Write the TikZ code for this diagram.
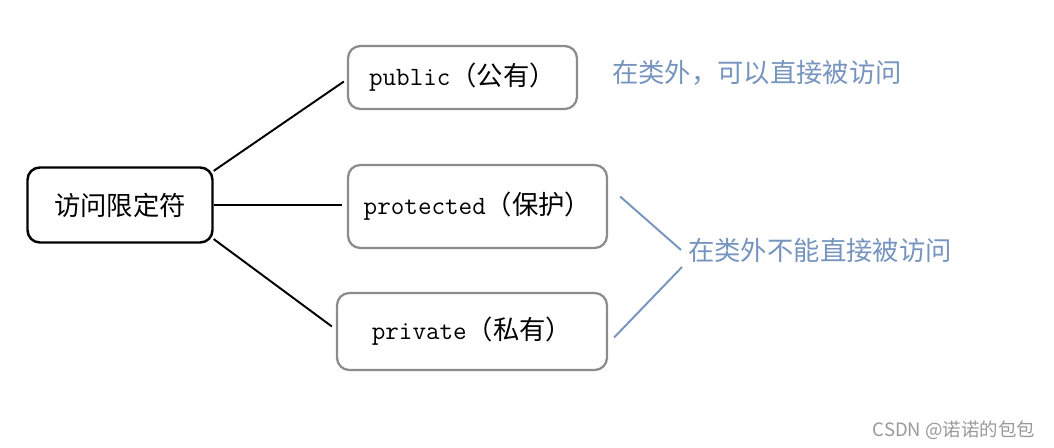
\documentclass[tikz,border=0pt]{standalone}
\usepackage{fontspec}
\newfontfamily\cjk{Noto Sans CJK SC}
\usetikzlibrary{positioning, calc}
\definecolor{noteblue}{RGB}{118,148,190}

\begin{document}
\begin{tikzpicture}[x=0.02cm, y=-0.02cm, thick,
    box/.style={draw=gray!90, line width=1.3pt, rounded corners=7pt, fill=white},
    txt/.style={font=\fontsize{15}{18}\selectfont}]
    \useasboundingbox (0,0) rectangle (1054,448);

    % root
    \node[draw, line width=1.4pt, rounded corners=7pt, minimum width=3.7cm, minimum height=1.5cm, txt] (acc) at (120,205) {\cjk 访问限定符};

    % access levels
    \node[box, minimum width=4.58cm, minimum height=1.26cm, txt] (pub) at (462.5,77.5) {\ttfamily public\cjk （公有）};
    \node[box, minimum width=5.18cm, minimum height=1.66cm, txt] (pro) at (477.5,206.5) {\ttfamily protected\cjk （保护）};
    \node[box, minimum width=5.4cm, minimum height=1.54cm, txt] (pri) at (472,331.5) {\ttfamily private\cjk （私有）};

    \draw[line width=1.1pt] (acc.20) -- ($(pub.west)+(-3,4)$);
    \draw[line width=1.1pt] (acc.east) -- ($(acc.east -| pro.west)+(-5,0)$);
    \draw[line width=1.1pt] (acc.-20) -- ($(pri.west)+(-4,-5)$);

    % notes
    \node[txt, text=noteblue] (pubnote) at (757,73) {\cjk 在类外，可以直接被访问};
    \node[txt, text=noteblue, inner sep=2pt] (hidnote) at (820,250) {\cjk 在类外不能直接被访问};

    \coordinate (protop) at ($(pro.east)+(12,-10)$);
    \coordinate (pribot) at ($(pri.east)+(6,6)$);
    \draw[noteblue, line width=1.1pt] (protop) -- ($(hidnote.west)+(-3,0)$);
    \draw[noteblue, line width=1.1pt] (pribot) -- ($(hidnote.west)+(-2,17)$);

    % watermark
    \node[text=gray!80, font=\fontsize{10.5}{12}\selectfont] (mark) at (954,430) {\cjk CSDN @诺诺的包包};
\end{tikzpicture}
\end{document}
